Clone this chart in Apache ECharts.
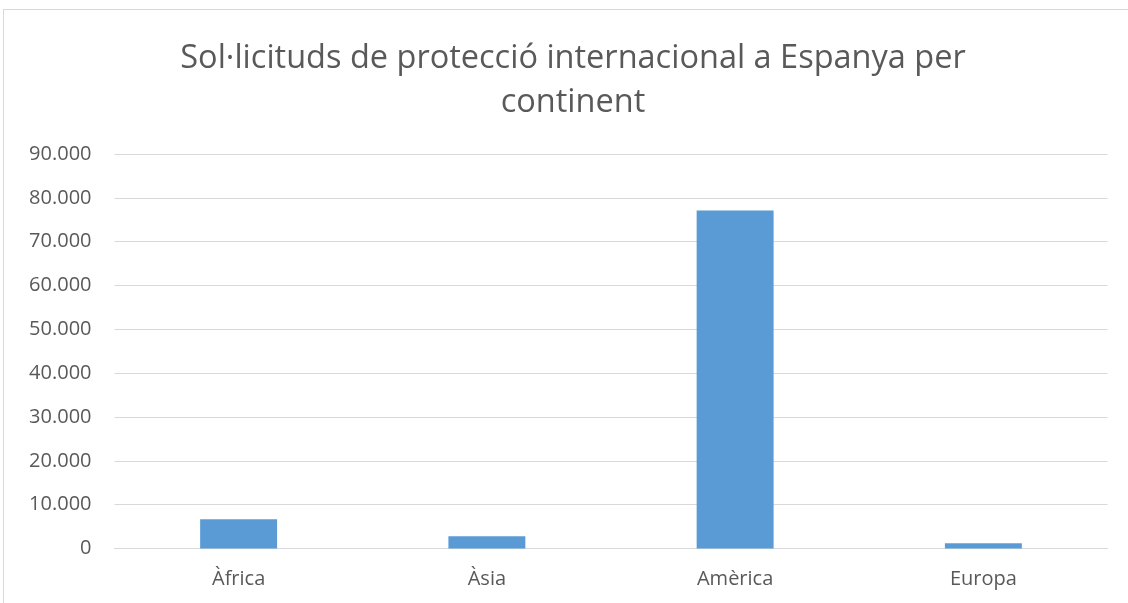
<!DOCTYPE html>
<html><head><meta charset="utf-8">
<script src="https://cdn.jsdelivr.net/npm/echarts@6/dist/echarts.min.js"></script>
<style>html,body{margin:0;padding:0;background:#fff}#c{width:1128px;height:603px}
#frame{position:absolute;left:3px;top:9px;width:1140px;height:610px;border:1.5px solid #d9d9d9;box-sizing:border-box;pointer-events:none}</style>
</head><body><div id="frame"></div><div id="c"></div>
<script>
const titleText = "Sol·licituds de protecció internacional a Espanya per\ncontinent";
const categories = ["Àfrica", "Àsia", "Amèrica", "Europa"];
const values = [6650, 2780, 77100, 1180];
const chart = echarts.init(document.getElementById('c'));
chart.setOption({
  animation: false,
  title: {
    text: titleText, left: 568, top: 32, textAlign: 'center',
    textStyle: {fontFamily: 'Open Sans', fontSize: 32.5, fontWeight: 'normal', color: '#595959', lineHeight: 44}
  },
  grid: {left: 114.5, right: 20.5, top: 154, bottom: 54.5},
  xAxis: {
    type: 'category', data: categories,
    axisLine: {lineStyle: {color: '#d9d9d9', width: 1}},
    axisTick: {show: false},
    axisLabel: {color: '#595959', fontFamily: 'Open Sans', fontSize: 20, margin: 21}
  },
  yAxis: {
    type: 'value', min: 0, max: 90000, interval: 10000,
    axisLine: {show: false}, axisTick: {show: false},
    splitLine: {lineStyle: {color: '#d9d9d9', width: 1}},
    axisLabel: {color: '#595959', fontFamily: 'Open Sans', fontSize: 20, margin: 23,
      formatter: v => v === 0 ? '0' : (v/1000) + '.000'}
  },
  series: [{type: 'bar', data: values, barWidth: '31%', itemStyle: {color: '#5b9bd5'}}]
});
</script></body></html>
